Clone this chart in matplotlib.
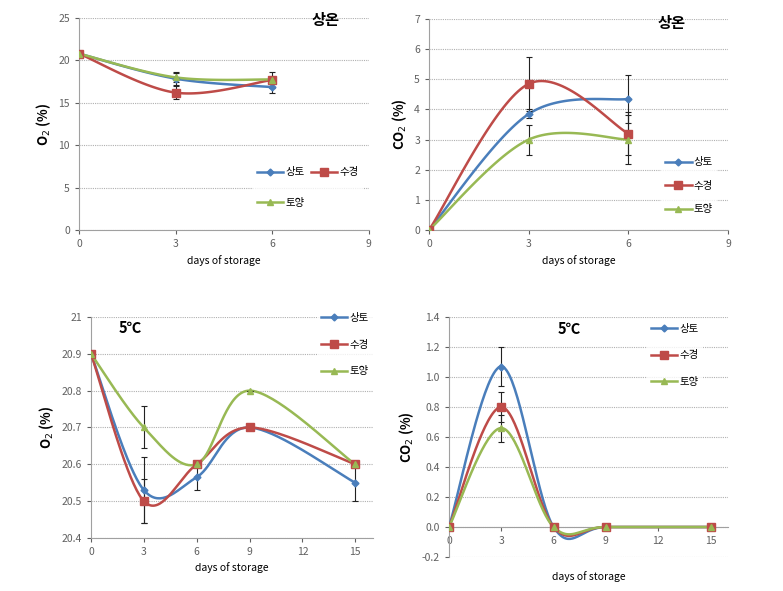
import numpy as np
import matplotlib
matplotlib.use('Agg')
from matplotlib import pyplot as plt

plt.rcParams['font.family'] = ['Noto Sans CJK KR', 'DejaVu Sans']

names = ['상토', '수경', '토양']
colors = ['#4A7EBB', '#BE4B48', '#98B954']
markers = ['D', 's', '^']
msizes = [3.5, 5.5, 5]

# room temperature (상온)
days_rt = [0, 3, 6]
o2_rt = [[20.8, 17.85, 16.85], [20.8, 16.2, 17.7], [20.8, 18.0, 17.75]]
o2_rt_err = [[0, 0.7, 0.7], [0, 0.8, 0.9], [0, 0.6, 0.3]]
co2_rt = [[0, 3.85, 4.35], [0, 4.85, 3.2], [0, 3.0, 3.0]]
co2_rt_err = [[0, 0.15, 0.8], [0, 0.9, 0.7], [0, 0.5, 0.8]]

# 5 degrees
days_5 = [0, 3, 6, 9, 15]
o2_5 = [[20.9, 20.53, 20.565, 20.7, 20.55],
        [20.9, 20.5, 20.6, 20.7, 20.6],
        [20.9, 20.7, 20.6, 20.8, 20.6]]
o2_5_err = [[0, 0.09, 0.035, 0, 0.05],
            [0, 0.06, 0, 0, 0],
            [0, 0.057, 0, 0, 0]]
co2_5 = [[0, 1.07, 0, 0, 0], [0, 0.80, 0, 0, 0], [0, 0.66, 0, 0, 0]]
co2_5_err = [[0, 0.13, 0, 0, 0], [0, 0.10, 0, 0, 0], [0, 0.09, 0, 0, 0]]


def smooth(x, y, n=40):
    # excel-like smoothed line (catmull-rom bezier)
    p = np.column_stack([x, y]).astype(float)
    p = np.vstack([p[0], p, p[-1]])
    out = []
    for i in range(1, len(p) - 2):
        p0, p1, p2, p3 = p[i - 1], p[i], p[i + 1], p[i + 2]
        c1 = p1 + (p2 - p0) / 6
        c2 = p2 - (p3 - p1) / 6
        t = np.linspace(0, 1, n)[:, None]
        b = (1 - t)**3 * p1 + 3 * (1 - t)**2 * t * c1 + 3 * (1 - t) * t**2 * c2 + t**3 * p2
        out.append(b)
    b = np.vstack(out)
    return b[:, 0], b[:, 1]


def panel(rect, x, ys, errs, xlim, xticks, ylim, yticks, ylabels, ylab):
    ax = fig.add_axes(rect)
    handles = []
    for k in range(3):
        sx, sy = smooth(x, ys[k])
        ax.plot(sx, sy, color=colors[k], lw=1.8, zorder=3)
        ax.errorbar(x, ys[k], yerr=errs[k], fmt='none', ecolor='#222222',
                    elinewidth=0.8, capsize=2.5, capthick=0.8, zorder=4)
        ax.plot(x, ys[k], ls='none', marker=markers[k], ms=msizes[k],
                color=colors[k], zorder=5)
        h, = ax.plot([], [], color=colors[k], lw=1.8, marker=markers[k], ms=msizes[k])
        handles.append(h)
    ax.set_xlim(xlim)
    ax.set_ylim(ylim)
    ax.set_xticks(xticks)
    ax.set_yticks(yticks)
    ax.set_yticklabels(ylabels)
    ax.grid(axis='y', color='#b0b0b0', lw=0.8, ls=(0, (1, 1)))
    ax.set_axisbelow(True)
    for s in ['top', 'right']:
        ax.spines[s].set_visible(False)
    for s in ['left', 'bottom']:
        ax.spines[s].set_color('#a0a0a0')
    ax.tick_params(labelsize=7.5, colors='#606060', length=3, width=0.8)
    ax.set_ylabel(ylab, fontsize=9.5, fontweight='bold')
    ax.set_xlabel('days of storage', fontsize=7.5)
    return ax, handles


def add_legend(ax, hs, labels, anchor, **kw):
    leg = ax.legend(hs, labels, loc='center', bbox_to_anchor=anchor,
                    fontsize=7.5, handlelength=2.5, handletextpad=0.2, **kw)
    leg.get_frame().set_edgecolor('none')
    return leg


fig = plt.figure(figsize=(7.83, 5.91), dpi=100)

ax1, h = panel([0.1009, 0.6108, 0.370, 0.3587], days_rt, o2_rt, o2_rt_err,
               (0, 9), [0, 3, 6, 9], (0, 25), range(0, 26, 5),
               [str(v) for v in range(0, 26, 5)], 'O$_2$ (%)')
ax1.text(0.85, 0.99, '상온', transform=ax1.transAxes, fontsize=11,
         fontweight='bold', ha='center', va='center')
add_legend(ax1, [h[0], h[2], h[1]], [names[0], names[2], names[1]], (0.79, 0.2),
           ncol=2, columnspacing=0.6, labelspacing=2.0)

ax2, h = panel([0.5479, 0.6108, 0.3819, 0.357], days_rt, co2_rt, co2_rt_err,
               (0, 9), [0, 3, 6, 9], (0, 7), range(0, 8),
               [str(v) for v in range(0, 8)], 'CO$_2$ (%)')
ax2.text(0.81, 0.98, '상온', transform=ax2.transAxes, fontsize=11,
         fontweight='bold', ha='center', va='center')
add_legend(ax2, h, names, (0.87, 0.21), labelspacing=1.3)

yt3 = [20.4, 20.5, 20.6, 20.7, 20.8, 20.9, 21.0]
ax3, h = panel([0.1162, 0.0897, 0.360, 0.374], days_5, o2_5, o2_5_err,
               (0, 16), [0, 3, 6, 9, 12, 15], (20.4, 21.0), yt3,
               ['20.4', '20.5', '20.6', '20.7', '20.8', '20.9', '21'], 'O$_2$ (%)')
ax3.text(0.14, 0.95, '5℃', transform=ax3.transAxes, fontsize=10.5,
         fontweight='bold', ha='center', va='center')
add_legend(ax3, h, names, (0.90, 0.875), labelspacing=1.6)

yt4 = [-0.2, 0.0, 0.2, 0.4, 0.6, 0.8, 1.0, 1.2, 1.4]
ax4, h = panel([0.5734, 0.0575, 0.3563, 0.406], days_5, co2_5, co2_5_err,
               (0, 16), [0, 3, 6, 9, 12, 15], (-0.2, 1.4), yt4,
               ['%.1f' % v for v in yt4], 'CO$_2$ (%)')
ax4.spines['bottom'].set_position(('data', 0))
ax4.xaxis.set_label_coords(0.5, -0.06)
ax4.text(0.43, 0.95, '5℃', transform=ax4.transAxes, fontsize=10.5,
         fontweight='bold', ha='center', va='center')
add_legend(ax4, h, names, (0.81, 0.84), labelspacing=1.6)

fig.savefig('out.png', dpi=100)
